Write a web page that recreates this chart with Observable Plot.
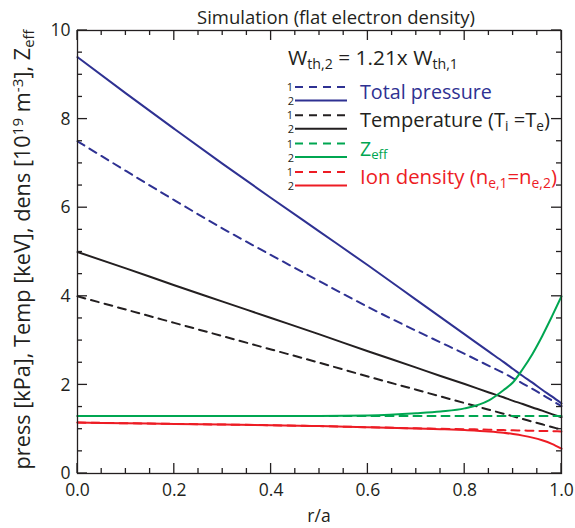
<!DOCTYPE html>
<html>
<head>
<meta charset="utf-8">
<script src="https://cdn.jsdelivr.net/npm/d3@7"></script>
<script src="https://cdn.jsdelivr.net/npm/@observablehq/plot@0.6"></script>
<style>
  html, body { margin: 0; padding: 0; background: #fff; }
  #chart svg { display: block; }
</style>
</head>
<body>
<div id="chart"></div>
<script>
// ---- data ----
const r = [0, 0.1, 0.2, 0.3, 0.4, 0.5, 0.6, 0.7, 0.75, 0.8, 0.85, 0.88, 0.9, 0.92, 0.94, 0.96, 0.98, 1.0];
const pressure1 = [7.50, 6.83, 6.17, 5.53, 4.93, 4.34, 3.76, 3.22, 2.96, 2.70, 2.43, 2.27, 2.15, 2.03, 1.91, 1.78, 1.65, 1.52];
const pressure2 = [9.40, 8.58, 7.78, 6.99, 6.22, 5.46, 4.70, 3.92, 3.53, 3.14, 2.75, 2.52, 2.36, 2.20, 2.05, 1.89, 1.74, 1.58];
const temp1 = [4.00, 3.70, 3.40, 3.10, 2.80, 2.50, 2.19, 1.89, 1.74, 1.59, 1.44, 1.35, 1.29, 1.23, 1.17, 1.11, 1.05, 0.99];
const temp2 = [5.00, 4.63, 4.25, 3.88, 3.51, 3.14, 2.76, 2.39, 2.20, 2.02, 1.83, 1.72, 1.64, 1.57, 1.49, 1.42, 1.34, 1.27];
const zeff1 = [1.30, 1.30, 1.30, 1.30, 1.30, 1.30, 1.30, 1.30, 1.30, 1.30, 1.30, 1.30, 1.30, 1.30, 1.30, 1.30, 1.30, 1.30];
const zeff2 = [1.30, 1.30, 1.30, 1.30, 1.30, 1.30, 1.31, 1.36, 1.40, 1.47, 1.65, 1.88, 2.06, 2.36, 2.70, 3.10, 3.54, 4.00];
const ion1 = [1.15, 1.135, 1.12, 1.105, 1.09, 1.07, 1.045, 1.02, 1.01, 1.00, 0.99, 0.98, 0.975, 0.97, 0.965, 0.96, 0.955, 0.95];
const ion2 = [1.15, 1.135, 1.12, 1.105, 1.09, 1.07, 1.045, 1.015, 1.00, 0.98, 0.95, 0.92, 0.89, 0.855, 0.81, 0.75, 0.67, 0.56];

const xMajor = [0, 0.2, 0.4, 0.6, 0.8, 1.0];
const xMinor = [0.05, 0.1, 0.15, 0.25, 0.3, 0.35, 0.45, 0.5, 0.55, 0.65, 0.7, 0.75, 0.85, 0.9, 0.95];
const yMajor = [0, 2, 4, 6, 8, 10];
const yMinor = [0.5, 1, 1.5, 2.5, 3, 3.5, 4.5, 5, 5.5, 6.5, 7, 7.5, 8.5, 9, 9.5];

const titleText = "Simulation (flat electron density)";
const xLabel = "r/a";

const BLUE = "#2e3192", BLACK = "#231f20", GREEN = "#00a651", RED = "#ed1c24";
const series = [
  {name: "p1", values: pressure1, color: BLUE, dash: "8,6"},
  {name: "p2", values: pressure2, color: BLUE, dash: null},
  {name: "t1", values: temp1, color: BLACK, dash: "8,6"},
  {name: "t2", values: temp2, color: BLACK, dash: null},
  {name: "z1", values: zeff1, color: GREEN, dash: "8,6"},
  {name: "z2", values: zeff2, color: GREEN, dash: null},
  {name: "n1", values: ion1, color: RED, dash: "8,6"},
  {name: "n2", values: ion2, color: RED, dash: null}
];
const rows = (s) => r.map((x, i) => ({r: x, v: s.values[i]}));

const FONT = "'Open Sans', 'Noto Sans', sans-serif";

const W = 575, H = 528, ML = 77, MR = 14, MT = 30, MB = 55;
const X0 = 0, X1 = 1, Y0 = 0, Y1 = 10;
const MAJ = 10, MIN = 5;

const lineMarks = series.map(s => Plot.line(rows(s), {
  x: "r", y: "v", stroke: s.color, strokeWidth: 2, strokeDasharray: s.dash, curve: "monotone-x"
}));

const chart = Plot.plot({
  width: W,
  height: H,
  marginLeft: ML,
  marginRight: MR,
  marginTop: MT,
  marginBottom: MB,
  style: {fontFamily: FONT, fontSize: "17.5px", color: BLACK},
  x: {domain: [X0, X1]},
  y: {domain: [Y0, Y1]},
  marks: [
    ...lineMarks,
    Plot.axisX({ticks: xMajor, anchor: "bottom", tickSize: 0, tickPadding: 10, tickFormat: d => d.toFixed(1), fontSize: 17.5, label: null}),
    Plot.axisY({ticks: yMajor, anchor: "left", tickSize: 0, tickPadding: 7, tickFormat: d => String(d), fontSize: 17.5, label: null}),
    Plot.frame({stroke: BLACK, strokeWidth: 1.3})
  ]
});
document.getElementById("chart").appendChild(chart);

const svg = d3.select(chart);

// ---- inward ticks on all four sides, placed with the chart's own scales ----
const sx = chart.scale("x"), sy = chart.scale("y");
const px = (v) => sx.apply(v), py = (v) => sy.apply(v);
const fx0 = px(X0), fx1 = px(X1), fy0 = py(Y0), fy1 = py(Y1);
const tg = svg.append("g").attr("stroke", BLACK).attr("stroke-width", 1.3).attr("fill", "none");
function xt(vals, len) {
  for (const v of vals) {
    tg.append("path").attr("d", `M${px(v)},${fy0}v${-len}`);
    tg.append("path").attr("d", `M${px(v)},${fy1}v${len}`);
  }
}
function yt(vals, len) {
  for (const v of vals) {
    tg.append("path").attr("d", `M${fx0},${py(v)}h${len}`);
    tg.append("path").attr("d", `M${fx1},${py(v)}h${-len}`);
  }
}
xt(xMajor, MAJ); xt(xMinor, MIN); yt(yMajor, MAJ); yt(yMinor, MIN);

// ---- text with sub/superscripts, title, legend ----
function build(x, y, parts, size, color, anchor, rotate) {
  const t = svg.append("text")
    .attr("font-family", FONT).attr("font-size", size).attr("fill", color)
    .attr("text-anchor", anchor)
    .attr("transform", `translate(${x},${y}) rotate(${rotate})`);
  for (const [s, kind] of parts) {
    const sp = t.append("tspan").text(s);
    if (kind === "sub") sp.attr("font-size", size * 0.68).attr("baseline-shift", "-25%");
    if (kind === "sup") sp.attr("font-size", size * 0.7).attr("baseline-shift", "50%");
  }
  return t;
}
function rich(x, y, parts, {size = 18, color = BLACK, anchor = "start", rotate = 0, fit = null} = {}) {
  let t = build(x, y, parts, size, color, anchor, rotate);
  if (fit) {
    const w = t.node().getComputedTextLength();
    if (w > 0) {
      const s2 = size * fit / w;
      t.remove();
      t = build(x, y, parts, s2, color, anchor, rotate);
    }
  }
  return t;
}

const x0 = ML, x1 = W - MR, y0 = MT, y1 = H - MB;
rich(336, 24, [[titleText]], {size: 18.4, anchor: "middle", fit: 278});
rich((x0 + x1) / 2, 522, [[xLabel]], {size: 17.5, anchor: "middle"});
rich(30, (y0 + y1) / 2 - 2, [["press [kPa], Temp [keV], dens [10"], ["19", "sup"], [" m"], ["-3", "sup"], ["], Z"], ["eff", "sub"]],
  {size: 16.7, anchor: "middle", rotate: -90, fit: 440});

// legend
rich(288, 65, [["W"], ["th,2", "sub"], [" = 1.21x W"], ["th,1", "sub"]], {size: 19, fit: 170});
const legend = [
  {color: BLUE, parts: [["Total pressure"]], fit: 132},
  {color: BLACK, parts: [["Temperature (T"], ["i", "sub"], [" =T"], ["e", "sub"], [")"]], fit: 190},
  {color: GREEN, parts: [["Z"], ["eff", "sub"]], fit: null},
  {color: RED, parts: [["Ion density (n"], ["e,1", "sub"], ["=n"], ["e,2", "sub"], [")"]], fit: 197}
];
legend.forEach((d, i) => {
  const yd = 87 + i * 28.3, ys = 100.5 + i * 28.3;
  svg.append("line").attr("x1", 295).attr("x2", 347).attr("y1", yd).attr("y2", yd)
    .attr("stroke", d.color).attr("stroke-width", 2).attr("stroke-dasharray", "8,6");
  svg.append("line").attr("x1", 295).attr("x2", 347).attr("y1", ys).attr("y2", ys)
    .attr("stroke", d.color).attr("stroke-width", 2);
  rich(293, yd + 4, [["1"]], {size: 11, anchor: "end"});
  rich(294, ys + 4.5, [["2"]], {size: 11, anchor: "end"});
  rich(360, 99 + i * 28.3, d.parts, {size: 19.5, color: d.color, fit: d.fit});
});
</script>
</body>
</html>
